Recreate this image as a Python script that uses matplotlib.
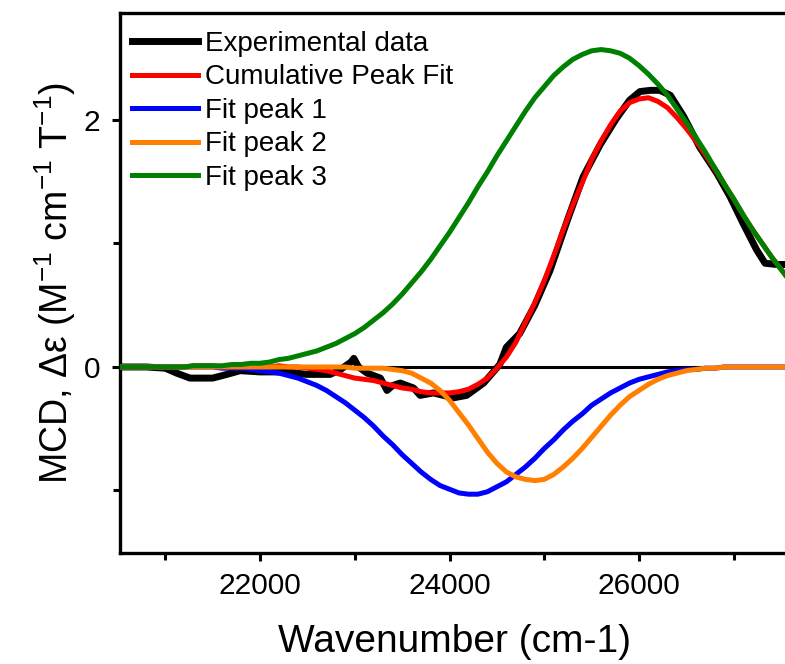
import matplotlib
matplotlib.use("Agg")
import matplotlib.pyplot as plt
import matplotlib.ticker as ticker

plt.rcParams["font.family"] = ["Liberation Sans", "DejaVu Sans"]
plt.rcParams["mathtext.fontset"] = "custom"
plt.rcParams["mathtext.rm"] = "Liberation Sans"
plt.rcParams["mathtext.it"] = "Liberation Sans"

# ── Data ─────────────────────────────────────────────────────────────────────
exp_x = [20500, 20800, 21000, 21120, 21260, 21500, 21650, 21790, 22000, 22280,
         22490, 22740, 22850, 22960, 22990, 23040, 23130, 23270, 23340, 23400,
         23480, 23620, 23690, 23830, 24040, 24180, 24360, 24530, 24600, 24740,
         24900, 25060, 25240, 25410, 25590, 25760, 25900, 26010, 26120, 26220,
         26330, 26470, 26640, 26820, 26960, 27100, 27240, 27330, 27450, 27600]
exp_y = [0.0, 0.0, -0.01, -0.05, -0.09, -0.09, -0.06, -0.03, -0.04, -0.04,
         -0.06, -0.06, -0.02, 0.04, 0.07, 0.0, -0.05, -0.09, -0.19, -0.15,
         -0.13, -0.17, -0.23, -0.21, -0.25, -0.23, -0.13, 0.02, 0.16, 0.27,
         0.50, 0.78, 1.18, 1.54, 1.80, 2.01, 2.16, 2.23, 2.24, 2.24,
         2.20, 2.03, 1.78, 1.57, 1.38, 1.16, 0.95, 0.84, 0.83, 0.83]

fit_x = [20500, 20600, 20700, 20800, 20900, 21000, 21100, 21200, 21300, 21400,
         21500, 21600, 21700, 21800, 21900, 22000, 22100, 22200, 22300, 22400,
         22500, 22600, 22700, 22800, 22900, 23000, 23100, 23200, 23300, 23400,
         23500, 23600, 23700, 23800, 23900, 24000, 24100, 24200, 24300, 24400,
         24500, 24600, 24700, 24800, 24900, 25000, 25100, 25200, 25300, 25400,
         25500, 25600, 25700, 25800, 25900, 26000, 26100, 26200, 26300, 26400,
         26500, 26600, 26700, 26800, 26900, 27000, 27100, 27200, 27300, 27400,
         27500, 27600, 27700]
cumulative = [0.0, 0.0, 0.0, 0.0, 0.0, 0.0, 0.0, 0.0, 0.01, 0.01,
              0.01, 0.0, 0.01, 0.01, 0.01, 0.0, 0.0, 0.01, 0.0, 0.0,
              -0.01, -0.02, -0.03, -0.05, -0.07, -0.09, -0.10, -0.11, -0.13, -0.15,
              -0.17, -0.18, -0.20, -0.21, -0.21, -0.21, -0.20, -0.18, -0.14, -0.09,
              -0.01, 0.08, 0.20, 0.36, 0.52, 0.70, 0.90, 1.11, 1.31, 1.49,
              1.68, 1.83, 1.96, 2.07, 2.14, 2.17, 2.18, 2.15, 2.10, 2.02,
              1.93, 1.83, 1.72, 1.60, 1.48, 1.36, 1.23, 1.11, 1.00, 0.89,
              0.79, 0.69, 0.61]
peak1 = [0.0, 0.0, 0.0, 0.0, 0.0, 0.0, 0.0, 0.0, 0.0, 0.0,
         0.0, -0.01, -0.01, -0.01, -0.02, -0.03, -0.04, -0.05, -0.07, -0.09,
         -0.12, -0.15, -0.19, -0.24, -0.29, -0.35, -0.41, -0.48, -0.56, -0.63,
         -0.71, -0.78, -0.85, -0.91, -0.96, -0.99, -1.02, -1.03, -1.03, -1.01,
         -0.97, -0.93, -0.87, -0.81, -0.74, -0.66, -0.59, -0.51, -0.44, -0.38,
         -0.31, -0.26, -0.21, -0.17, -0.13, -0.10, -0.08, -0.06, -0.04, -0.03,
         -0.02, -0.02, -0.01, -0.01, 0.0, 0.0, 0.0, 0.0, 0.0, 0.0,
         0.0, 0.0, 0.0]
peak2 = [0.0, 0.0, 0.0, 0.0, 0.0, 0.0, 0.0, 0.0, 0.0, 0.0,
         0.0, 0.0, 0.0, 0.0, 0.0, 0.0, 0.0, 0.0, 0.0, 0.0,
         0.0, 0.0, 0.0, 0.0, 0.0, -0.01, -0.01, -0.01, -0.01, -0.02,
         -0.03, -0.05, -0.09, -0.13, -0.19, -0.27, -0.37, -0.47, -0.58, -0.69,
         -0.78, -0.85, -0.89, -0.91, -0.92, -0.91, -0.87, -0.81, -0.74, -0.66,
         -0.57, -0.48, -0.39, -0.31, -0.24, -0.19, -0.14, -0.10, -0.07, -0.05,
         -0.03, -0.02, -0.01, -0.01, 0.0, 0.0, 0.0, 0.0, 0.0, 0.0,
         0.0, 0.0, 0.0]
peak3 = [0.0, 0.0, 0.0, 0.0, 0.0, 0.0, 0.0, 0.0, 0.01, 0.01,
         0.01, 0.01, 0.02, 0.02, 0.03, 0.03, 0.04, 0.06, 0.07, 0.09,
         0.11, 0.13, 0.16, 0.19, 0.23, 0.27, 0.32, 0.38, 0.44, 0.51,
         0.59, 0.68, 0.77, 0.87, 0.98, 1.09, 1.21, 1.33, 1.46, 1.58,
         1.71, 1.83, 1.95, 2.07, 2.18, 2.27, 2.36, 2.43, 2.49, 2.53,
         2.56, 2.57, 2.56, 2.54, 2.50, 2.44, 2.37, 2.29, 2.20, 2.09,
         1.98, 1.86, 1.74, 1.61, 1.48, 1.36, 1.23, 1.11, 1.00, 0.89,
         0.79, 0.69, 0.61]

# ── Plot ──────────────────────────────────────────────────────────────────────
fig = plt.figure(figsize=(7.85, 6.64), dpi=100)
ax = fig.add_axes([0.1529, 0.1672, 0.8522, 0.8132])

ax.axhline(0, color="black", linewidth=2.2, zorder=1)
ax.plot(exp_x, exp_y, color="black", linewidth=5, solid_joinstyle="round",
        label="Experimental data", zorder=2)
ax.plot(fit_x, cumulative, color="#FF0000", linewidth=3.6, solid_joinstyle="round",
        label="Cumulative Peak Fit", zorder=3)
ax.plot(fit_x, peak1, color="#0000FF", linewidth=3.6, solid_joinstyle="round",
        label="Fit peak 1", zorder=3)
ax.plot(fit_x, peak2, color="#FF8000", linewidth=3.6, solid_joinstyle="round",
        label="Fit peak 2", zorder=3)
ax.plot(fit_x, peak3, color="#008000", linewidth=3.6, solid_joinstyle="round",
        label="Fit peak 3", zorder=4)

ax.set_xlim(20522, 27583)
ax.set_ylim(-1.506, 2.866)
ax.xaxis.set_major_locator(ticker.MultipleLocator(2000))
ax.xaxis.set_minor_locator(ticker.MultipleLocator(1000))
ax.yaxis.set_major_locator(ticker.MultipleLocator(2))
ax.yaxis.set_minor_locator(ticker.MultipleLocator(1))

ax.tick_params(which="both", direction="out", width=2.2, labelsize=21.5, pad=8)
ax.tick_params(which="major", length=6)
ax.tick_params(which="minor", length=5)
for s in ax.spines.values():
    s.set_linewidth(2.4)
ax.spines["right"].set_visible(False)

ax.set_xlabel("Wavenumber (cm-1)", fontsize=28, labelpad=17)
ax.set_ylabel("MCD, Δε (M$^{-1}$ cm$^{-1}$ T$^{-1}$)", fontsize=27)

ax.legend(loc="upper left", bbox_to_anchor=(0.018, 0.967), frameon=False,
          fontsize=20, handlelength=2.37, handletextpad=0.25,
          labelspacing=0.27, borderaxespad=0, borderpad=0)

fig.savefig("out.png", dpi=100)
